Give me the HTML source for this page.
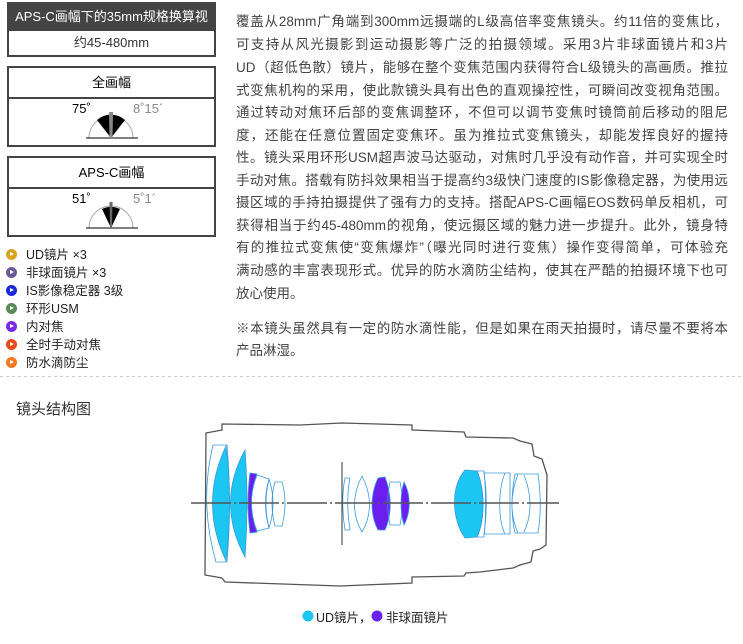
<!DOCTYPE html>
<html><head><meta charset="utf-8"><style>
body{margin:0;width:743px;height:644px;background:#fff;position:relative;overflow:hidden;font-family:"Liberation Sans","Noto Sans CJK SC",sans-serif;color:#333}
.a{position:absolute}
.box{position:absolute;left:7px;width:205px;border:2px solid #444;box-sizing:content-box}
.hd{height:24px;line-height:24px;text-align:center;font-size:13px}
.t{position:absolute;left:236px;width:492px;font-size:13.5px;white-space:nowrap;text-align:justify;text-align-last:justify;line-height:18px;color:#444}
.b{position:absolute;left:6px;font-size:12.5px;color:#222;line-height:16px}
.b i{display:inline-block;width:11px;height:11px;border-radius:50%;vertical-align:-1px;margin-right:9px;position:relative}
.b i:after{content:"";position:absolute;left:4px;top:3px;border-left:4px solid #fff;border-top:2.5px solid transparent;border-bottom:2.5px solid transparent}
</style></head><body>
<div class="box" style="top:2px;height:51px"><div class="hd" style="background:#444;color:#fff;height:25px;line-height:25px">APS-C画幅下的35mm规格换算视角</div><div class="hd" style="border-top:2px solid #444;line-height:24px">约45-480mm</div></div>
<div class="box" style="top:66px;height:77px"><div class="hd" style="height:29px;line-height:29px;border-bottom:2px solid #444;color:#000">全画幅</div></div>
<div class="box" style="top:156px;height:77px"><div class="hd" style="height:29px;line-height:29px;border-bottom:2px solid #444;color:#000">APS-C画幅</div></div>
<div class="a" style="left:72px;top:101px;font-size:13px;color:#000">75˚</div>
<div class="a" style="left:133px;top:101px;font-size:13px;color:#888">8˚15´</div>
<div class="a" style="left:72px;top:191px;font-size:13px;color:#000">51˚</div>
<div class="a" style="left:133px;top:191px;font-size:13px;color:#888">5˚1´</div>
<svg class="a" style="left:0;top:0" width="743" height="644">
<path d="M89 138 A22 22 0 0 1 133 138" fill="none" stroke="#aaa"/>
<line x1="86" y1="138" x2="138" y2="138" stroke="#000"/>
<path d="M111 138 L97 120 A21 21 0 0 1 125 120 Z" fill="#000"/>
<path d="M109.5 138 L109 112 L113 112 L112.5 138Z" fill="#888"/>
<path d="M89 228 A22 22 0 0 1 133 228" fill="none" stroke="#aaa"/>
<line x1="86" y1="228" x2="138" y2="228" stroke="#000"/>
<path d="M111 228 L102 209 A21 21 0 0 1 120 209 Z" fill="#000"/>
<path d="M110 228 L109.5 202 L112.5 202 L112 228Z" fill="#666"/>
<line x1="0" y1="376.5" x2="743" y2="376.5" stroke="#ccc" stroke-dasharray="3,3"/>
<path d="M222 430 L206 433 L205 575 L222 578 L225 582 L340 586 L412 583 L412 577 L464 576 L466 573 L480 572 L513 568 L520 565 L531 562 L533 551 L540 549 L546 545 L547 475 L542 459 L534 456 L532 444 L520 441 L513 438 L466 437 L464 432 L412 430 L412 425 L342 423 L300 425 L222 424 Z" fill="none" stroke="#555" stroke-width="1.3"/>
<g stroke="#3a9ad8" stroke-width="0.8">
<path d="M213 445 L227 445 Q232 503 227 562 L216 562 Q199 503 213 445Z" fill="#fff"/>
<path d="M226 446 Q233 503 226 561 Q199 503 226 446Z" fill="#1cc6f2"/>
<path d="M245 450 Q249 503 245 557 Q216 503 245 450Z" fill="#1cc6f2"/>
<path d="M250 473 L257 474 Q246 503 257 532 L250 533 Q246 503 250 473Z" fill="#6a1ff0"/>
<path d="M257 475 L269 479 Q263 503 269 528 L257 531 Q246 503 257 475Z" fill="#fff"/>
<path d="M269 479 Q277 503 269 528 Q262 503 269 479Z M275 482 L282 482 Q288 503 282 526 L275 526 Q269 503 275 482Z" fill="none"/>
<path d="M345 478 C342 492 342 512 345 530 L350 530 C347 512 347 492 350 478Z" fill="none"/>
<path d="M362 476 C352 495 352 515 362 532 C372 515 372 495 362 476Z" fill="none"/>
<path d="M378 478 L385 477 C392 495 392 515 385 530 L378 530 C370 515 370 495 378 478Z" fill="#6a1ff0"/>
<path d="M390 482 L400 482 C403 495 403 512 400 525 L390 525 C387 512 387 495 390 482Z" fill="none"/>
<path d="M404 482 C411 495 411 512 404 525 C400 512 400 495 404 482Z" fill="#6a1ff0"/>
<path d="M465 470 L477 471 C485 490 485 520 477 537 L465 538 C452 520 450 488 465 470Z" fill="#1cc6f2"/>
<path d="M477 471 L484 471 C486 490 486 520 484 537 L477 537 C485 520 485 490 477 471Z" fill="none"/>
<path d="M484 473 L505 473 C498 490 498 520 505 534 L484 534 C487 515 487 490 484 473Z M505 473 L510 473 L510 534 L505 534 C498 520 498 490 505 473Z" fill="none"/>
<path d="M515 474 L538 474 C541 495 541 515 538 533 L515 533 C511 515 511 495 515 474Z M518 474 C510 495 510 515 518 533 M524 475 C532 495 532 515 524 532" fill="none"/>
</g>
<line x1="342" y1="462" x2="342" y2="545" stroke="#333"/>
<line x1="191" y1="503" x2="559" y2="503" stroke="#555" stroke-width="1.5" stroke-dasharray="40,3,2,3"/>
<circle cx="308" cy="616" r="5.5" fill="#1cc6f2"/>
<circle cx="377" cy="616" r="5.5" fill="#6a1ff0"/>
</svg>
<div class="a" style="left:316px;top:607px;font-size:12.5px;color:#222">UD镜片，</div>
<div class="a" style="left:386px;top:607px;font-size:12.5px;color:#222">非球面镜片</div>
<div class="a" style="left:16px;top:398px;font-size:15px;color:#333">镜头结构图</div>
<div class="b" style="top:247px"><i style="background:#d9a520"></i>UD镜片 ×3</div>
<div class="b" style="top:265px"><i style="background:#6a5a9a"></i>非球面镜片 ×3</div>
<div class="b" style="top:283px"><i style="background:#1a2ad8"></i>IS影像稳定器 3级</div>
<div class="b" style="top:301px"><i style="background:#5a8a5a"></i>环形USM</div>
<div class="b" style="top:319px"><i style="background:#7a2ae8"></i>内对焦</div>
<div class="b" style="top:337px"><i style="background:#e84a1a"></i>全时手动对焦</div>
<div class="b" style="top:355px"><i style="background:#f07a20"></i>防水滴防尘</div>
<div class="t" style="top:13px">覆盖从28mm广角端到300mm远摄端的L级高倍率变焦镜头。约11倍的变焦比，</div>
<div class="t" style="top:36px">可支持从风光摄影到运动摄影等广泛的拍摄领域。采用3片非球面镜片和3片</div>
<div class="t" style="top:59px">UD（超低色散）镜片，能够在整个变焦范围内获得符合L级镜头的高画质。推拉</div>
<div class="t" style="top:82px">式变焦机构的采用，使此款镜头具有出色的直观操控性，可瞬间改变视角范围。</div>
<div class="t" style="top:104px">通过转动对焦环后部的变焦调整环，不但可以调节变焦时镜筒前后移动的阻尼</div>
<div class="t" style="top:127px">度，还能在任意位置固定变焦环。虽为推拉式变焦镜头，却能发挥良好的握持</div>
<div class="t" style="top:149px">性。镜头采用环形USM超声波马达驱动，对焦时几乎没有动作音，并可实现全时</div>
<div class="t" style="top:172px">手动对焦。搭载有防抖效果相当于提高约3级快门速度的IS影像稳定器，为使用远</div>
<div class="t" style="top:194px">摄区域的手持拍摄提供了强有力的支持。搭配APS-C画幅EOS数码单反相机，可</div>
<div class="t" style="top:217px">获得相当于约45-480mm的视角，使远摄区域的魅力进一步提升。此外，镜身特</div>
<div class="t" style="top:239px">有的推拉式变焦使“变焦爆炸”（曝光同时进行变焦）操作变得简单，可体验充</div>
<div class="t" style="top:262px">满动感的丰富表现形式。优异的防水滴防尘结构，使其在严酷的拍摄环境下也可</div>
<div class="t" style="top:285px;text-align-last:left">放心使用。</div>
<div class="t" style="top:320px">※本镜头虽然具有一定的防水滴性能，但是如果在雨天拍摄时，请尽量不要将本</div>
<div class="t" style="top:342px;text-align-last:left">产品淋湿。</div>
</body></html>
